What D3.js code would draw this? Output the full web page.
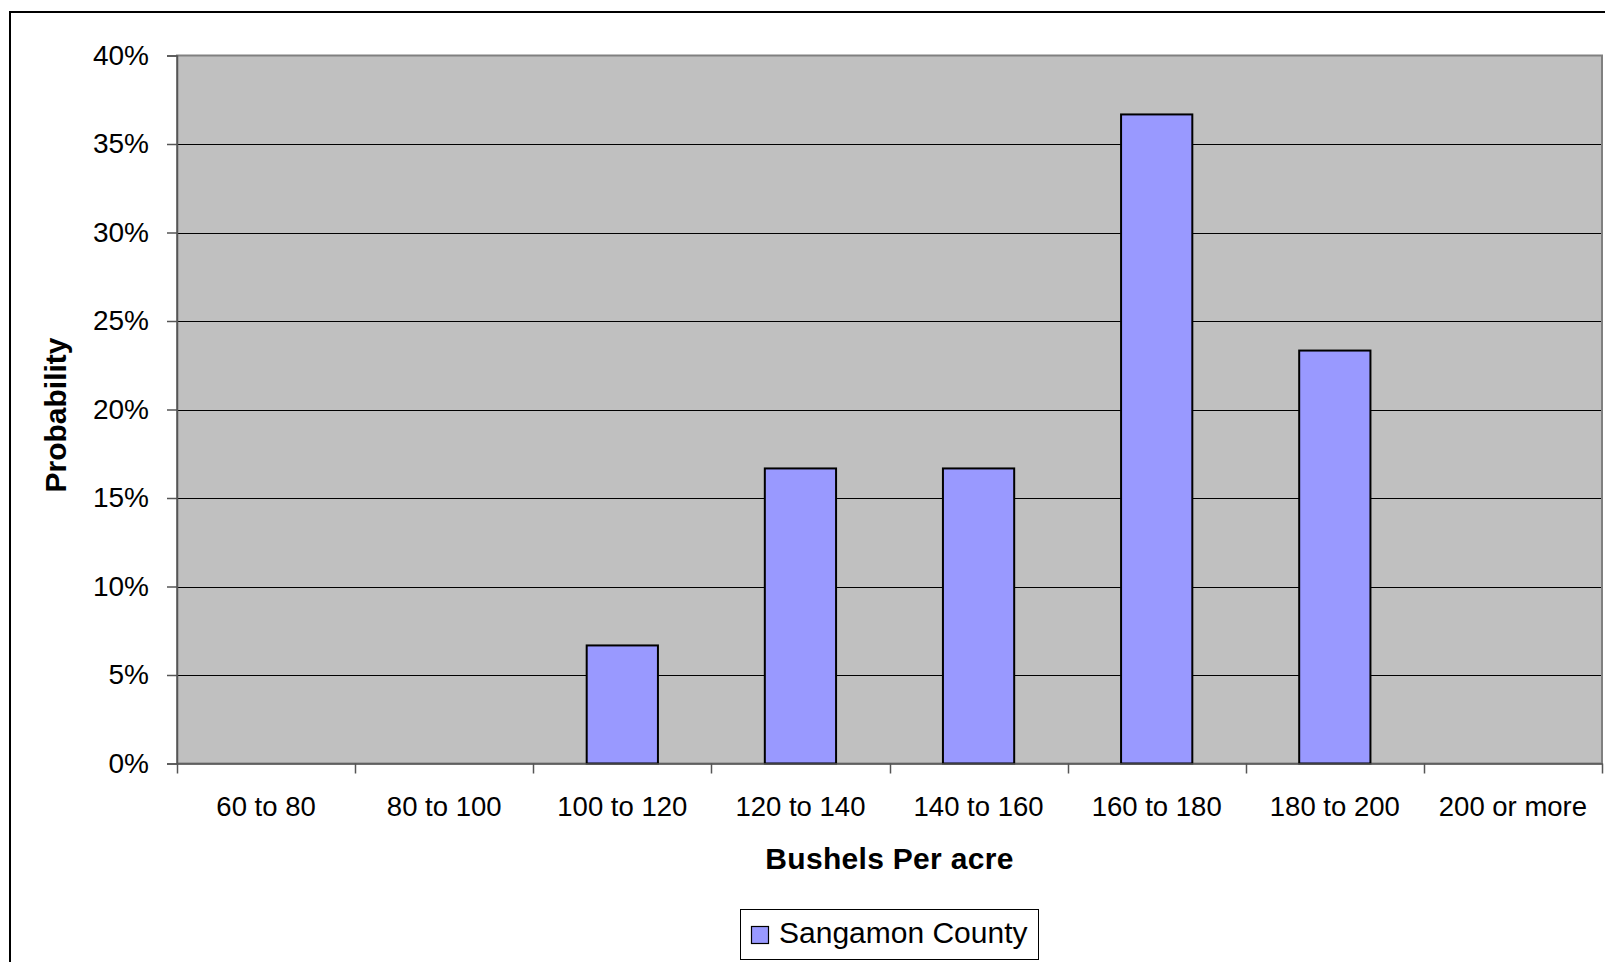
<!DOCTYPE html>
<html>
<head>
<meta charset="utf-8">
<script src="https://cdn.jsdelivr.net/npm/d3@7"></script>
<style>
  html, body { margin: 0; padding: 0; background: #fff; }
  svg { display: block; }
  text { font-family: Arial, "Liberation Sans", sans-serif; fill: #000; }
</style>
</head>
<body>
<svg id="chart" width="1605" height="962"></svg>
<script>
// Yield classes (bushels per acre) and the share of years falling in each
const categories = ["60 to 80", "80 to 100", "100 to 120", "120 to 140",
                    "140 to 160", "160 to 180", "180 to 200", "200 or more"];
const probability = [0, 0, 0.0667, 0.1667, 0.1667, 0.3667, 0.2333, 0];
const yTicks = [0, 0.05, 0.10, 0.15, 0.20, 0.25, 0.30, 0.35, 0.40];
const seriesName = "Sangamon County";
const xTitle = "Bushels Per acre";
const yTitle = "Probability";

const svg = d3.select("#chart");
const plot = { left: 177, right: 1602, top: 55.5, bottom: 763.5 };

// outer chart frame (runs off the right and bottom edges)
svg.append("rect")
  .attr("x", 10).attr("y", 12)
  .attr("width", 1700).attr("height", 1100)
  .attr("fill", "none").attr("stroke", "#000").attr("stroke-width", 2);

const xCat = d3.scaleBand().domain(categories).range([plot.left, plot.right]);
const x = d3.scaleBand().domain(categories).range([plot.left, plot.right])
  .paddingInner(0.6).paddingOuter(0.3);
const y = d3.scaleLinear().domain([0, 0.4]).range([plot.bottom, plot.top]);

// plot background
svg.append("rect")
  .attr("x", plot.left).attr("y", plot.top)
  .attr("width", plot.right - plot.left).attr("height", plot.bottom - plot.top)
  .attr("fill", "#c0c0c0");

// horizontal gridlines
svg.append("g")
  .selectAll("line")
  .data(yTicks.filter(t => t > 0 && t < 0.4))
  .join("line")
  .attr("x1", plot.left).attr("x2", plot.right)
  .attr("y1", d => Math.round(y(d)) + 0.5).attr("y2", d => Math.round(y(d)) + 0.5)
  .attr("stroke", "#000").attr("stroke-width", 1.2);

// plot border
svg.append("rect")
  .attr("x", plot.left).attr("y", plot.top)
  .attr("width", plot.right - plot.left).attr("height", plot.bottom - plot.top)
  .attr("fill", "none").attr("stroke", "#808080").attr("stroke-width", 2);

// bars
svg.append("g")
  .selectAll("rect")
  .data(categories.map((c, i) => ({ c, v: probability[i] })).filter(d => d.v > 0))
  .join("rect")
  .attr("x", d => x(d.c))
  .attr("y", d => y(d.v))
  .attr("width", x.bandwidth())
  .attr("height", d => y(0) - y(d.v))
  .attr("fill", "#9999ff")
  .attr("stroke", "#000").attr("stroke-width", 2);

// y axis
const yAxis = d3.axisLeft(y).tickValues(yTicks).tickFormat(d3.format(".0%"))
  .tickSize(10).tickPadding(18);
const gy = svg.append("g").attr("transform", `translate(${plot.left},0)`).call(yAxis);
gy.select(".domain").attr("stroke", "#555").attr("stroke-width", 1.5);
gy.selectAll(".tick line").attr("stroke", "#555").attr("stroke-width", 1.5);
gy.selectAll(".tick text")
  .style("font-family", "Arial, 'Liberation Sans', sans-serif")
  .attr("font-size", 28).attr("fill", "#000");

// x axis: labels centred in each category, ticks on category boundaries
const xAxis = d3.axisBottom(xCat).tickSize(0).tickPadding(33);
const gx = svg.append("g").attr("transform", `translate(0,${plot.bottom})`).call(xAxis);
gx.select(".domain").attr("stroke", "#555").attr("stroke-width", 1.5);
gx.selectAll(".tick text")
  .style("font-family", "Arial, 'Liberation Sans', sans-serif")
  .attr("font-size", 27.5).attr("fill", "#000");
gx.append("g")
  .selectAll("line")
  .data(categories.map(c => xCat(c)).concat([plot.right]))
  .join("line")
  .attr("x1", d => Math.round(d) + 0.5).attr("x2", d => Math.round(d) + 0.5)
  .attr("y1", 0).attr("y2", 10)
  .attr("stroke", "#555").attr("stroke-width", 1.5);

// axis titles
svg.append("text")
  .attr("x", (plot.left + plot.right) / 2).attr("y", 869)
  .attr("text-anchor", "middle")
  .attr("font-size", 30).attr("font-weight", "bold")
  .attr("letter-spacing", 0.3)
  .text(xTitle);

svg.append("text")
  .attr("transform", `translate(66,${415}) rotate(-90)`)
  .attr("text-anchor", "middle")
  .attr("font-size", 30).attr("font-weight", "bold")
  .text(yTitle);

// legend
const legend = svg.append("g");
legend.append("rect")
  .attr("x", 740.5).attr("y", 909.5).attr("width", 298).attr("height", 50)
  .attr("fill", "#fff").attr("stroke", "#000").attr("stroke-width", 1);
legend.append("rect")
  .attr("x", 751.5).attr("y", 926.5).attr("width", 17).attr("height", 17)
  .attr("fill", "#9999ff").attr("stroke", "#000").attr("stroke-width", 1.2);
legend.append("text")
  .attr("x", 779).attr("y", 943)
  .attr("font-size", 30)
  .text(seriesName);
</script>
</body>
</html>
